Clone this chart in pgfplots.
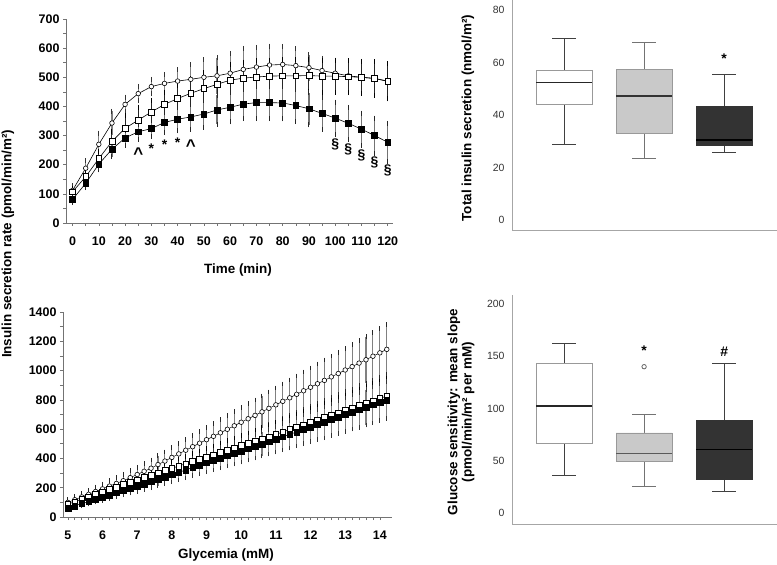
\documentclass[border=0pt]{standalone}
\usepackage{pgfplots}
\pgfplotsset{compat=1.18}
\usepackage{pgfplotstable}
\usepackage{fontspec}
\setmainfont{Liberation Sans}

\pgfplotstableread{
t C Ce O Oe F Fe
0 112 15 107 10 81 10
5 188 25 159 20 136 15
10 270 38 221 25 202 20
15 343 40 280 35 253 25
20 407 25 325 45 292 25
25 444 25 353 45 313 25
30 468 25 381 40 324 28
35 479 30 407 42 345 35
40 487 38 427 45 356 40
45 493 50 445 50 364 42
50 500 60 461 55 374 45
55 505 62 476 55 388 50
60 514 68 490 55 397 50
65 527 72 497 55 408 50
70 535 68 501 55 413 55
75 542 65 504 55 413 55
80 544 62 505 55 412 55
85 540 58 505 55 403 55
90 533 45 506 55 392 55
95 523 42 504 55 376 55
100 514 42 504 55 360 55
105 505 42 502 55 342 55
110 500 42 500 55 322 55
115 496 42 496 58 300 60
120 487 45 486 60 277 65
}\timedata

\pgfplotstableread{
g C Ce O Oe F Fe
5.0 100 18 88 10 62 10
5.2 118 21 104 12 76 12
5.4 137 24 121 15 92 15
5.6 155 27 137 17 106 17
5.8 174 31 154 20 122 20
6.0 192 34 171 22 136 23
6.2 211 37 187 24 151 25
6.4 229 40 204 27 166 28
6.6 248 44 221 29 181 30
6.8 269 47 237 32 196 33
7.0 290 50 254 34 211 36
7.2 312 54 270 36 226 38
7.4 333 57 287 39 241 41
7.6 358 60 302 41 257 43
7.8 382 63 318 44 273 46
8.0 407 67 333 46 289 49
8.2 431 70 348 48 305 51
8.4 456 73 364 51 321 54
8.6 480 76 379 53 338 56
8.8 504 80 395 56 354 59
9.0 528 83 410 58 370 62
9.2 551 86 425 60 386 64
9.4 575 90 443 63 402 67
9.6 599 93 456 65 418 69
9.8 623 96 471 68 434 72
10.0 647 99 487 70 450 75
10.2 671 103 502 72 466 77
10.4 694 106 517 75 482 80
10.6 718 109 533 77 498 82
10.8 742 112 548 80 514 85
11.0 766 116 564 82 531 88
11.2 790 119 581 84 548 90
11.4 814 122 597 87 564 93
11.6 838 126 614 89 581 95
11.8 862 129 630 92 598 98
12.0 886 132 646 94 615 101
12.2 910 135 663 96 632 103
12.4 933 139 679 99 646 106
12.6 957 142 695 101 665 108
12.8 980 145 712 104 682 111
13.0 1004 148 728 106 699 114
13.2 1027 152 745 108 716 116
13.4 1051 155 761 111 732 119
13.6 1074 158 777 113 749 121
13.8 1098 162 794 116 766 123
14.0 1121 165 810 118 783 124
14.2 1145 168 826 120 799 125
}\glydata

\tikzset{ann/.style={font=\bfseries\fontsize{14}{16}\selectfont}}
\pgfplotsset{
  leftax/.style={
    anchor=south west, scale only axis, clip=false,
    axis x line*=bottom, axis y line*=left,
    axis line style={-, draw=black!55, line width=0.8pt},
    tick align=outside, tick style={draw=black!55, line width=0.6pt},
    major tick length=3bp, minor tick length=3bp,
    tick label style={font=\bfseries\fontsize{12.5}{14}\selectfont},
    xticklabel style={yshift=-7bp},
    /pgf/number format/assume math mode=true,
    /pgf/number format/set thousands separator={},
  },
  boxax/.style={
    anchor=south west, scale only axis, clip=false,
    axis x line*=bottom, axis y line*=left,
    axis line style={-, draw=black!35, line width=0.8pt},
    xtick=\empty, major tick length=0pt,
    xmin=0.35, xmax=3.66,
    tick label style={font=\fontsize{10.5}{12}\selectfont, text=black!80},
    yticklabel style={xshift=-4bp},
    /pgf/number format/assume math mode=true,
    unbounded coords=jump,
  },
}

\begin{document}
\begin{tikzpicture}
\useasboundingbox (0,0) rectangle (777bp,565bp);

% ---------- top left: time course ----------
\begin{axis}[leftax, at={(66bp,342bp)}, width=327bp, height=204bp,
  xmin=-2.5, xmax=122, ymin=0, ymax=700,
  xtick={0,10,...,120}, minor x tick num=1,
  ytick={0,100,...,700}, minor y tick num=1]
\addplot[black, line width=0.6pt, mark=*, mark size=2.3bp,
  mark options={fill=white, draw=black, line width=0.6pt},
  error bars/.cd, y dir=both, y explicit,
  error bar style={draw=black!50, line width=1.1pt},
  error mark options={draw=black!80, line width=1pt, mark size=2.5bp}]
  table[x=t, y=C, y error=Ce] {\timedata};
\addplot[black, line width=0.6pt, mark=square*, mark size=2.9bp,
  mark options={fill=white, draw=black, line width=0.6pt},
  error bars/.cd, y dir=both, y explicit,
  error bar style={draw=black!85, line width=1pt},
  error mark options={draw=black, line width=1pt, mark size=2.5bp}]
  table[x=t, y=O, y error=Oe] {\timedata};
\addplot[black, line width=0.6pt, mark=square*, mark size=2.9bp,
  mark options={fill=black, draw=black},
  error bars/.cd, y dir=both, y explicit,
  error bar style={draw=black!55, line width=1.1pt},
  error mark options={draw=black!85, line width=1pt, mark size=2.5bp}]
  table[x=t, y=F, y error=Fe] {\timedata};
\node[ann, font=\bfseries\fontsize{17}{18}\selectfont] at (axis cs:25,238) {\textasciicircum};
\node[ann] at (axis cs:30,256) {*};
\node[ann] at (axis cs:35,269) {*};
\node[ann] at (axis cs:40,277) {*};
\node[ann, font=\bfseries\fontsize{17}{18}\selectfont] at (axis cs:45,266) {\textasciicircum};
\node[ann] at (axis cs:100,271) {§};
\node[ann] at (axis cs:105,253) {§};
\node[ann] at (axis cs:110,231) {§};
\node[ann] at (axis cs:115,207) {§};
\node[ann] at (axis cs:120,179) {§};
\end{axis}

% ---------- bottom left: glycemia ----------
\begin{axis}[leftax, at={(63bp,48bp)}, width=329bp, height=205bp,
  xmin=4.86, xmax=14.35, ymin=0, ymax=1400,
  xtick={5,6,...,14}, minor x tick num=4,
  ytick={0,200,...,1400}, minor y tick num=1]
\addplot[black, line width=0.5pt, mark=*, mark size=2.3bp,
  mark options={fill=white, draw=black, line width=0.6pt},
  error bars/.cd, y dir=both, y explicit,
  error bar style={draw=black!50, line width=1.1pt},
  error mark options={draw=black!85, line width=1pt, mark size=2.3bp}]
  table[x=g, y=C, y error=Ce] {\glydata};
\addplot[black, line width=0.5pt, mark=square*, mark size=2.9bp,
  mark options={fill=white, draw=black, line width=0.6pt},
  error bars/.cd, y dir=both, y explicit,
  error bar style={draw=black!80, line width=1pt},
  error mark options={draw=black, line width=1pt, mark size=2.3bp}]
  table[x=g, y=O, y error=Oe] {\glydata};
\addplot[black, line width=0.5pt, mark=square*, mark size=2.9bp,
  mark options={fill=black, draw=black},
  error bars/.cd, y dir=both, y explicit,
  error bar style={draw=black!50, line width=1.1pt},
  error mark options={draw=black!80, line width=1pt, mark size=2.3bp}]
  table[x=g, y=F, y error=Fe] {\glydata};
\end{axis}

% ---------- top right: total insulin secretion ----------
\begin{axis}[boxax, at={(512bp,335bp)}, width=265bp, height=230bp,
  ymin=-3.81, ymax=83.8, ytick={0,20,...,80}]
% box 1 (white): lw 28.8, q1 44.1, med 52.3, q3 57.1, uw 69
\addplot[draw=black!75, line width=0.8pt] coordinates
  {(1,57.1) (1,69) (nan,nan) (0.85,69) (1.15,69) (nan,nan)
   (1,44.1) (1,28.8) (nan,nan) (0.85,28.8) (1.15,28.8)};
\addplot[draw=black!40, fill=white, line width=0.8pt] coordinates
  {(0.65,44.1) (1.35,44.1) (1.35,57.1) (0.65,57.1) (0.65,44.1)};
\addplot[draw=black!85, line width=1.5pt] coordinates {(0.65,52.3) (1.35,52.3)};
% box 2 (light grey): lw 23.6, q1 33.0, med 47.2, q3 57.3, uw 67.5
\addplot[draw=black!55, line width=0.8pt] coordinates
  {(2,57.3) (2,67.5) (nan,nan) (1.85,67.5) (2.15,67.5) (nan,nan)
   (2,33.0) (2,23.6) (nan,nan) (1.85,23.6) (2.15,23.6)};
\addplot[draw=black!40, fill=black!21, line width=0.8pt] coordinates
  {(1.65,33.0) (2.35,33.0) (2.35,57.3) (1.65,57.3) (1.65,33.0)};
\addplot[draw=black!80, line width=1.5pt] coordinates {(1.65,47.2) (2.35,47.2)};
% box 3 (dark): lw 25.8, q1 28.4, med 30.5, q3 43.2, uw 55.6
\addplot[draw=black!75, line width=0.8pt] coordinates
  {(3,43.2) (3,55.6) (nan,nan) (2.85,55.6) (3.15,55.6) (nan,nan)
   (3,28.4) (3,25.8) (nan,nan) (2.85,25.8) (3.15,25.8)};
\addplot[draw=black!80, fill=black!80, line width=0.8pt] coordinates
  {(2.65,28.4) (3.35,28.4) (3.35,43.2) (2.65,43.2) (2.65,28.4)};
\addplot[draw=black, line width=1.5pt] coordinates {(2.65,30.5) (3.35,30.5)};
\node[ann] at (axis cs:3,61.5) {*};
\end{axis}

% ---------- bottom right: glucose sensitivity ----------
\begin{axis}[boxax, at={(512bp,41bp)}, width=265bp, height=229bp,
  ymin=-10.5, ymax=208.6, ytick={0,50,...,200}]
% box 1 (white): lw 36, q1 66.3, med 102.4, q3 143.5, uw 162.4
\addplot[draw=black!75, line width=0.8pt] coordinates
  {(1,143.5) (1,162.4) (nan,nan) (0.85,162.4) (1.15,162.4) (nan,nan)
   (1,66.3) (1,36) (nan,nan) (0.85,36) (1.15,36)};
\addplot[draw=black!40, fill=white, line width=0.8pt] coordinates
  {(0.65,66.3) (1.35,66.3) (1.35,143.5) (0.65,143.5) (0.65,66.3)};
\addplot[draw=black!85, line width=1.5pt] coordinates {(0.65,102.4) (1.35,102.4)};
% box 2 (light grey): lw 25.5, q1 49.5, med 56.8, q3 76.6, uw 94.7, outlier 140
\addplot[draw=black!55, line width=0.8pt] coordinates
  {(2,76.6) (2,94.7) (nan,nan) (1.85,94.7) (2.15,94.7) (nan,nan)
   (2,49.5) (2,25.5) (nan,nan) (1.85,25.5) (2.15,25.5)};
\addplot[draw=black!40, fill=black!21, line width=0.8pt] coordinates
  {(1.65,49.5) (2.35,49.5) (2.35,76.6) (1.65,76.6) (1.65,49.5)};
\addplot[draw=black!65, line width=1.5pt] coordinates {(1.65,56.8) (2.35,56.8)};
\addplot[only marks, mark=o, mark size=2.2bp, mark options={draw=black!60, line width=0.8pt}]
  coordinates {(2,140)};
% box 3 (dark): lw 21, q1 32.2, med 61, q3 89, uw 142.9
\addplot[draw=black!75, line width=0.8pt] coordinates
  {(3,89) (3,142.9) (nan,nan) (2.85,142.9) (3.15,142.9) (nan,nan)
   (3,32.2) (3,21) (nan,nan) (2.85,21) (3.15,21)};
\addplot[draw=black!80, fill=black!80, line width=0.8pt] coordinates
  {(2.65,32.2) (3.35,32.2) (3.35,89) (2.65,89) (2.65,32.2)};
\addplot[draw=black, line width=1.5pt] coordinates {(2.65,61) (3.35,61)};
\node[ann] at (axis cs:2,155) {*};
\node[ann] at (axis cs:3,154.4) {\#};
\end{axis}

% ---------- axis titles ----------
\node[rotate=90, font=\bfseries\fontsize{13.5}{16}\selectfont] at (8bp,321bp)
  {Insulin secretion rate (pmol/min/m²)};
\node[font=\bfseries\fontsize{13.5}{16}\selectfont] at (238bp,295bp) {Time (min)};
\node[font=\bfseries\fontsize{13.5}{16}\selectfont] at (226bp,10bp) {Glycemia (mM)};
\node[rotate=90, font=\bfseries\fontsize{13.5}{16}\selectfont] at (468bp,447bp)
  {Total insulin secretion (nmol/m²)};
\node[rotate=90, align=center, font=\bfseries\fontsize{13.5}{14.5}\selectfont] at (461bp,153bp)
  {Glucose sensitivity: mean slope\\(pmol/min/m² per mM)};
\end{tikzpicture}
\end{document}
